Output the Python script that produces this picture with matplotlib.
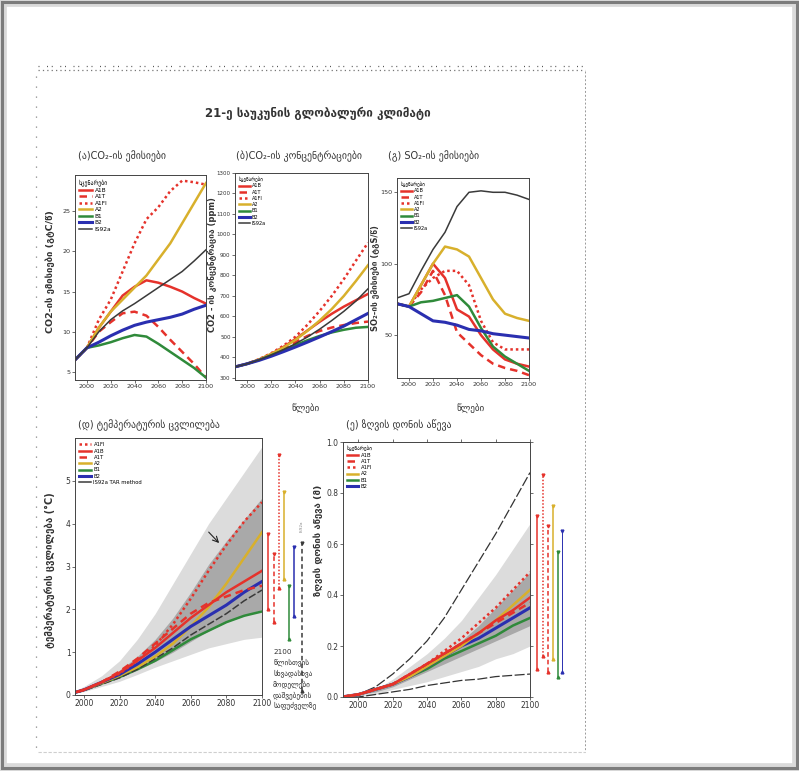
import matplotlib
matplotlib.use("Agg")
import matplotlib.pyplot as plt
from matplotlib.lines import Line2D
from matplotlib.patches import Rectangle

plt.rcParams['font.family'] = ['DejaVu Sans']

# ---------------- data ----------------
years10 = [1990, 2000, 2010, 2020, 2030, 2040, 2050, 2060, 2070, 2080, 2090, 2100]
scen_names = ['A1B', 'A1T', 'A1FI', 'A2', 'B1', 'B2', 'IS92a']

# (a) CO2 emissions, GtC/yr
co2_emis = {
    'A1B':  [6.5, 8.0, 10.5, 12.5, 14.5, 15.6, 16.4, 16.1, 15.6, 15.0, 14.2, 13.5],
    'A1T':  [6.5, 8.0, 10.0, 11.2, 12.3, 12.5, 12.0, 10.6, 9.0, 7.5, 6.0, 4.3],
    'A1FI': [6.5, 8.0, 11.5, 14.0, 17.5, 21.0, 24.0, 25.5, 27.5, 28.8, 28.6, 28.3],
    'A2':   [6.5, 8.0, 10.5, 12.5, 14.0, 15.5, 17.0, 19.0, 21.0, 23.5, 26.0, 28.5],
    'B1':   [6.5, 8.0, 8.3, 8.7, 9.2, 9.6, 9.4, 8.5, 7.5, 6.5, 5.5, 4.3],
    'B2':   [6.5, 8.0, 8.7, 9.5, 10.2, 10.8, 11.2, 11.5, 11.8, 12.2, 12.8, 13.3],
    'IS92a':[6.5, 8.0, 10.0, 11.5, 12.6, 13.5, 14.5, 15.5, 16.5, 17.5, 18.8, 20.2],
}
# (b) CO2 concentrations, ppm
co2_conc = {
    'A1B':  [354, 369, 390, 417, 451, 490, 532, 574, 613, 648, 679, 710],
    'A1T':  [354, 369, 389, 415, 445, 475, 505, 529, 546, 558, 568, 575],
    'A1FI': [354, 369, 392, 421, 457, 501, 560, 627, 700, 782, 872, 960],
    'A2':   [354, 369, 390, 417, 448, 486, 530, 580, 636, 700, 773, 850],
    'B1':   [354, 369, 388, 411, 435, 460, 484, 505, 522, 535, 545, 549],
    'B2':   [354, 369, 386, 406, 428, 451, 475, 500, 526, 553, 584, 615],
    'IS92a':[354, 369, 388, 412, 438, 467, 500, 538, 580, 625, 675, 735],
}
# (c) SO2 emissions, TgS/yr
so2_emis = {
    'A1B':  [72, 70, 85, 100, 90, 68, 63, 50, 40, 33, 30, 28],
    'A1T':  [72, 70, 80, 95, 78, 52, 44, 36, 30, 27, 25, 22],
    'A1FI': [72, 70, 82, 90, 95, 95, 85, 60, 45, 40, 40, 40],
    'A2':   [72, 70, 85, 100, 112, 110, 105, 90, 75, 65, 62, 60],
    'B1':   [72, 70, 73, 74, 76, 78, 70, 55, 42, 35, 30, 25],
    'B2':   [72, 70, 65, 60, 59, 57, 54, 53, 51, 50, 49, 48],
    'IS92a':[76, 79, 95, 110, 122, 140, 150, 151, 150, 150, 148, 145],
}
# (d) temperature change, deg C
temp = {
    'A1FI': [0, 0.12, 0.3, 0.5, 0.8, 1.15, 1.65, 2.25, 2.9, 3.5, 4.05, 4.5],
    'A1B':  [0, 0.12, 0.3, 0.52, 0.8, 1.1, 1.45, 1.8, 2.1, 2.4, 2.65, 2.9],
    'A1T':  [0, 0.12, 0.3, 0.55, 0.85, 1.2, 1.55, 1.9, 2.15, 2.3, 2.45, 2.55],
    'A2':   [0, 0.12, 0.28, 0.45, 0.65, 0.9, 1.2, 1.6, 2.05, 2.6, 3.2, 3.8],
    'B1':   [0, 0.12, 0.27, 0.42, 0.6, 0.8, 1.05, 1.3, 1.5, 1.7, 1.85, 1.95],
    'B2':   [0, 0.12, 0.3, 0.48, 0.72, 1.0, 1.3, 1.6, 1.85, 2.1, 2.4, 2.65],
    'IS92a':[0, 0.1, 0.25, 0.4, 0.6, 0.85, 1.1, 1.4, 1.65, 1.9, 2.2, 2.45],
}
temp_light_lo = [0, 0.08, 0.2, 0.32, 0.48, 0.65, 0.8, 0.95, 1.1, 1.2, 1.3, 1.35]
temp_light_hi = [0, 0.2, 0.45, 0.8, 1.3, 1.9, 2.6, 3.3, 4.0, 4.6, 5.2, 5.8]
temp_dark_lo = [0, 0.1, 0.25, 0.4, 0.58, 0.78, 1.0, 1.25, 1.5, 1.7, 1.85, 2.0]
temp_dark_hi = [0, 0.13, 0.33, 0.58, 0.9, 1.3, 1.8, 2.4, 3.05, 3.6, 4.1, 4.6]
# 2100 ranges (d)
temp_bar_names = ['A1B', 'A1T', 'A1FI', 'A2', 'B1', 'B2', 'IS92a']
temp_bar_lo = [2.0, 1.7, 2.5, 2.7, 1.3, 1.85, 0.1]
temp_bar_hi = [3.75, 3.3, 5.6, 4.75, 2.55, 3.45, 3.55]

# (e) sea level rise, m
sea = {
    'A1B':  [0, 0.01, 0.03, 0.05, 0.09, 0.13, 0.17, 0.21, 0.25, 0.30, 0.34, 0.39],
    'A1T':  [0, 0.01, 0.03, 0.05, 0.09, 0.13, 0.17, 0.21, 0.25, 0.29, 0.33, 0.37],
    'A1FI': [0, 0.01, 0.03, 0.05, 0.09, 0.13, 0.18, 0.23, 0.29, 0.35, 0.42, 0.49],
    'A2':   [0, 0.01, 0.03, 0.05, 0.08, 0.12, 0.16, 0.20, 0.25, 0.30, 0.36, 0.42],
    'B1':   [0, 0.01, 0.03, 0.05, 0.08, 0.11, 0.15, 0.18, 0.21, 0.24, 0.28, 0.31],
    'B2':   [0, 0.01, 0.03, 0.05, 0.08, 0.12, 0.16, 0.20, 0.23, 0.27, 0.31, 0.35],
}
sea_outer_hi = [0, 0.01, 0.04, 0.09, 0.15, 0.22, 0.31, 0.42, 0.53, 0.64, 0.76, 0.88]
sea_outer_lo = [0, 0.0, 0.01, 0.02, 0.03, 0.045, 0.055, 0.065, 0.07, 0.08, 0.085, 0.09]
sea_light_hi = [0, 0.01, 0.03, 0.07, 0.12, 0.17, 0.23, 0.30, 0.39, 0.48, 0.58, 0.68]
sea_light_lo = [0, 0.0, 0.01, 0.03, 0.045, 0.06, 0.08, 0.10, 0.12, 0.15, 0.17, 0.20]
sea_dark_hi = [0, 0.01, 0.03, 0.06, 0.09, 0.13, 0.17, 0.22, 0.28, 0.35, 0.42, 0.49]
sea_dark_lo = [0, 0.01, 0.02, 0.04, 0.07, 0.10, 0.13, 0.16, 0.19, 0.22, 0.25, 0.28]
sea_bar_names = ['A1B', 'A1FI', 'A1T', 'A2', 'B1', 'B2']
sea_bar_lo = [0.11, 0.16, 0.10, 0.15, 0.08, 0.10]
sea_bar_hi = [0.71, 0.87, 0.67, 0.75, 0.57, 0.65]

xticks = [2000, 2020, 2040, 2060, 2080, 2100]

# ---------------- styles ----------------
RED = '#e5322b'
GOLD = '#d8b02c'
GREEN = '#2f8a3a'
BLUE = '#2a2fb0'
BLACK = '#3a3a3a'
style = {
    'A1B':  dict(color=RED, ls='-', lw=1.8),
    'A1T':  dict(color=RED, ls=(0, (3, 2)), lw=1.8),
    'A1FI': dict(color=RED, ls=(0, (1, 1.2)), lw=1.8),
    'A2':   dict(color=GOLD, ls='-', lw=1.8),
    'B1':   dict(color=GREEN, ls='-', lw=1.8),
    'B2':   dict(color=BLUE, ls='-', lw=2.2),
    'IS92a':dict(color=BLACK, ls='-', lw=1.1),
}

W, H = 799, 771
fig = plt.figure(figsize=(W / 100, H / 100), dpi=100)
fig.patch.set_facecolor('white')


def ax_px(x0, y0, x1, y1, **kw):
    return fig.add_axes([x0 / W, 1 - y1 / H, (x1 - x0) / W, (y1 - y0) / H], **kw)


def fig_text(x, y, s, **kw):
    fig.text(x / W, 1 - y / H, s, **kw)


def style_ax(ax, xlim, ylim, yticks):
    ax.set_xlim(*xlim)
    ax.set_ylim(*ylim)
    ax.set_xticks(xticks)
    ax.set_yticks(yticks)
    ax.tick_params(labelsize=4.6, length=2, width=0.5, pad=1.2, colors='#333')
    ax.minorticks_off()
    for sp in ax.spines.values():
        sp.set_linewidth(0.7)
        sp.set_color('#444')


def add_legend(ax, names, fs=4.2):
    handles = [Line2D([0], [0], **style[n]) for n in names]
    leg = ax.legend(handles, names, title='სცენარები', loc='upper left',
                    fontsize=fs, title_fontsize=fs, frameon=False,
                    handlelength=2.2, borderaxespad=0.3, labelspacing=0.25,
                    handletextpad=0.5)
    leg._legend_box.align = 'left'
    return leg

# ---------------- outer frame ----------------
fig.patches.append(Rectangle((0.003, 0.004), 0.994, 0.993, transform=fig.transFigure,
                             fill=False, edgecolor='#dadada', lw=7, zorder=0))
fig.patches.append(Rectangle((0.003, 0.004), 0.994, 0.993, transform=fig.transFigure,
                             fill=False, edgecolor='#7c7c7c', lw=2.2, zorder=1))
# dotted page borders
fig.lines.append(Line2D([38 / W, 585 / W], [1 - 70 / H, 1 - 70 / H], transform=fig.transFigure,
                        color='#777', lw=0.9, ls=(0, (1, 2.5))))
fig.lines.append(Line2D([38 / W, 585 / W], [1 - 66 / H, 1 - 66 / H], transform=fig.transFigure,
                        color='#555', lw=0.9, ls=(0, (0.8, 6, 0.8, 3))))
fig.lines.append(Line2D([36 / W, 36 / W], [1 - 76 / H, 1 - 748 / H], transform=fig.transFigure,
                        color='#888', lw=0.9, ls=(0, (1, 7))))
fig.lines.append(Line2D([585 / W, 585 / W], [1 - 71 / H, 1 - 752 / H], transform=fig.transFigure,
                        color='#999', lw=0.7, ls=(0, (2, 2))))
fig.lines.append(Line2D([38 / W, 585 / W], [1 - 752 / H, 1 - 752 / H], transform=fig.transFigure,
                        color='#cfcfcf', lw=0.8, ls=(0, (3, 1.5))))

# ---------------- title ----------------
fig_text(318, 113, '21-ე საუკუნის გლობალური კლიმატი', ha='center', va='center',
         fontsize=8.5, fontweight='bold', color='#333')

# ---------------- (a) ----------------
axa = ax_px(75, 175, 206, 380)
for n in scen_names:
    axa.plot(years10, co2_emis[n], **style[n])
style_ax(axa, (1990, 2100), (4, 29.5), [5, 10, 15, 20, 25])
add_legend(axa, scen_names)
fig_text(78, 156, '(ა)CO₂-ის ემისიები', fontsize=7, va='center', color='#333')
fig_text(50, 272, 'CO2-ის ემისიები (გტC/წ)', rotation=90, ha='center', va='center',
         fontsize=6.8, fontweight='bold', color='#333')

# ---------------- (b) ----------------
axb = ax_px(235, 173, 368, 380)
for n in scen_names:
    axb.plot(years10, co2_conc[n], **style[n])
style_ax(axb, (1990, 2100), (290, 1300), list(range(300, 1301, 100)))
axb.tick_params(axis='y', labelsize=4.0)
add_legend(axb, scen_names, fs=3.6)
fig_text(236, 156, '(ბ)CO₂-ის კონცენტრაციები', fontsize=7, va='center', color='#333')
fig_text(212, 265, 'CO2 - ის კონცენტრაცია (ppm)', rotation=90, ha='center', va='center',
         fontsize=6.0, fontweight='bold', color='#333')
fig_text(305, 408, 'წლები', ha='center', va='center', fontsize=6.5, color='#333')

# ---------------- (c) ----------------
axc = ax_px(397, 178, 529, 378)
for n in scen_names:
    axc.plot(years10, so2_emis[n], **style[n])
style_ax(axc, (1990, 2100), (20, 160), [50, 100, 150])
add_legend(axc, scen_names, fs=3.6)
fig_text(388, 156, '(გ) SO₂-ის ემისიები', fontsize=7, va='center', color='#333')
fig_text(375, 278, 'SO₂-ის ემისიები (ტგS/წ)', rotation=90, ha='center', va='center',
         fontsize=6.0, fontweight='bold', color='#333')
fig_text(470, 408, 'წლები', ha='center', va='center', fontsize=6.5, color='#333')

# ---------------- (d) ----------------
axd = ax_px(75, 438, 262, 695)
axd.fill_between(years10, temp_light_lo, temp_light_hi, color='#dcdcdc', lw=0)
axd.fill_between(years10, temp_dark_lo, temp_dark_hi, color='#a9a9a9', lw=0)
for n in ['B1', 'IS92a', 'A2', 'B2', 'A1B', 'A1T', 'A1FI']:
    s = dict(style[n])
    if n == 'IS92a':
        s['ls'] = (0, (5, 1.5))
    axd.plot(years10, temp[n], **s)
axd.annotate('', xy=(2077, 3.5), xytext=(2069, 3.85),
             arrowprops=dict(arrowstyle='->', color='#222', lw=0.8))
style_ax(axd, (1995, 2100), (0, 6), [0, 1, 2, 3, 4, 5])
axd.tick_params(labelsize=5.5)
leg_order_d = ['A1FI', 'A1B', 'A1T', 'A2', 'B1', 'B2', 'IS92a']
hd = [Line2D([0], [0], **style[n]) for n in leg_order_d]
axd.legend(hd, ['A1FI', 'A1B', 'A1T', 'A2', 'B1', 'B2', 'IS92a TAR method'],
           loc='upper left', fontsize=3.8, frameon=False, handlelength=2.2,
           labelspacing=0.25, borderaxespad=0.4, handletextpad=0.5)
fig_text(78, 425, '(დ) ტემპერატურის ცვლილება', fontsize=7, va='center', color='#333')
fig_text(50, 570, 'ტემპერატურის ცვლილება (°C)', rotation=90, ha='center', va='center',
         fontsize=7, fontweight='bold', color='#333')

# bars for (d)
axdb = ax_px(262, 438, 310, 695)
axdb.set_ylim(0, 6)
axdb.set_xlim(0, 1)
axdb.axis('off')
bar_x_d = [0.13, 0.24, 0.35, 0.45, 0.57, 0.67, 0.83]
for i, n in enumerate(temp_bar_names):
    s = dict(style[n])
    s['lw'] = 1.1
    if n == 'IS92a':
        s['ls'] = (0, (3, 2))
    axdb.plot([bar_x_d[i], bar_x_d[i]], [temp_bar_lo[i], temp_bar_hi[i]], **s)
    axdb.plot([bar_x_d[i]], [temp_bar_hi[i]], marker='v', ms=2, color=s['color'])
    axdb.plot([bar_x_d[i]], [temp_bar_lo[i]], marker='^', ms=2, color=s['color'])
axdb.text(bar_x_d[-1], 3.8, 'IS92a', rotation=90, fontsize=3, color='#888',
          ha='center', va='bottom')
fig_text(273, 649, '2100\nწლისთვის\nსხვადასხვა\nმოდელები\nდაშვებების\nსაფუძველზე',
         fontsize=5.2, va='top', ha='left', color='#333', linespacing=1.5)

# ---------------- (e) ----------------
axe = ax_px(343, 442, 530, 697)
axe.fill_between(years10, sea_light_lo, sea_light_hi, color='#dcdcdc', lw=0)
axe.fill_between(years10, sea_dark_lo, sea_dark_hi, color='#a9a9a9', lw=0)
axe.plot(years10, sea_outer_hi, color='#333', lw=0.9, ls=(0, (8, 2)))
axe.plot(years10, sea_outer_lo, color='#333', lw=0.9, ls=(0, (8, 2)))
for n in ['B1', 'B2', 'A2', 'A1B', 'A1T', 'A1FI']:
    axe.plot(years10, sea[n], **style[n])
style_ax(axe, (1991, 2100), (0, 1.0), [0.0, 0.2, 0.4, 0.6, 0.8, 1.0])
axe.tick_params(right=True, top=True, direction='out', labelsize=5.5)
axe.set_yticklabels(['0.0', '0.2', '0.4', '0.6', '0.8', '1.0'])
add_legend(axe, ['A1B', 'A1T', 'A1FI', 'A2', 'B1', 'B2'], fs=3.8)
fig_text(346, 425, '(ე) ზღვის დონის აწევა', fontsize=7, va='center', color='#333')
fig_text(318, 540, 'ზღვის დონის აწევა (მ)', rotation=90, ha='center', va='center',
         fontsize=6.8, fontweight='bold', color='#333')

# bars for (e)
axeb = ax_px(530, 442, 572, 697)
axeb.set_ylim(0, 1.0)
axeb.set_xlim(0, 1)
axeb.axis('off')
bar_x_e = [0.17, 0.3, 0.42, 0.55, 0.66, 0.75]
for i, n in enumerate(sea_bar_names):
    s = dict(style[n])
    s['lw'] = 1.1
    if n == 'B2':
        s['lw'] = 0.7
    axeb.plot([bar_x_e[i], bar_x_e[i]], [sea_bar_lo[i], sea_bar_hi[i]], **s)
    axeb.plot([bar_x_e[i]], [sea_bar_hi[i]], marker='v', ms=2, color=s['color'])
    axeb.plot([bar_x_e[i]], [sea_bar_lo[i]], marker='^', ms=2, color=s['color'])

fig.savefig('out.png', dpi=100, facecolor='white')
